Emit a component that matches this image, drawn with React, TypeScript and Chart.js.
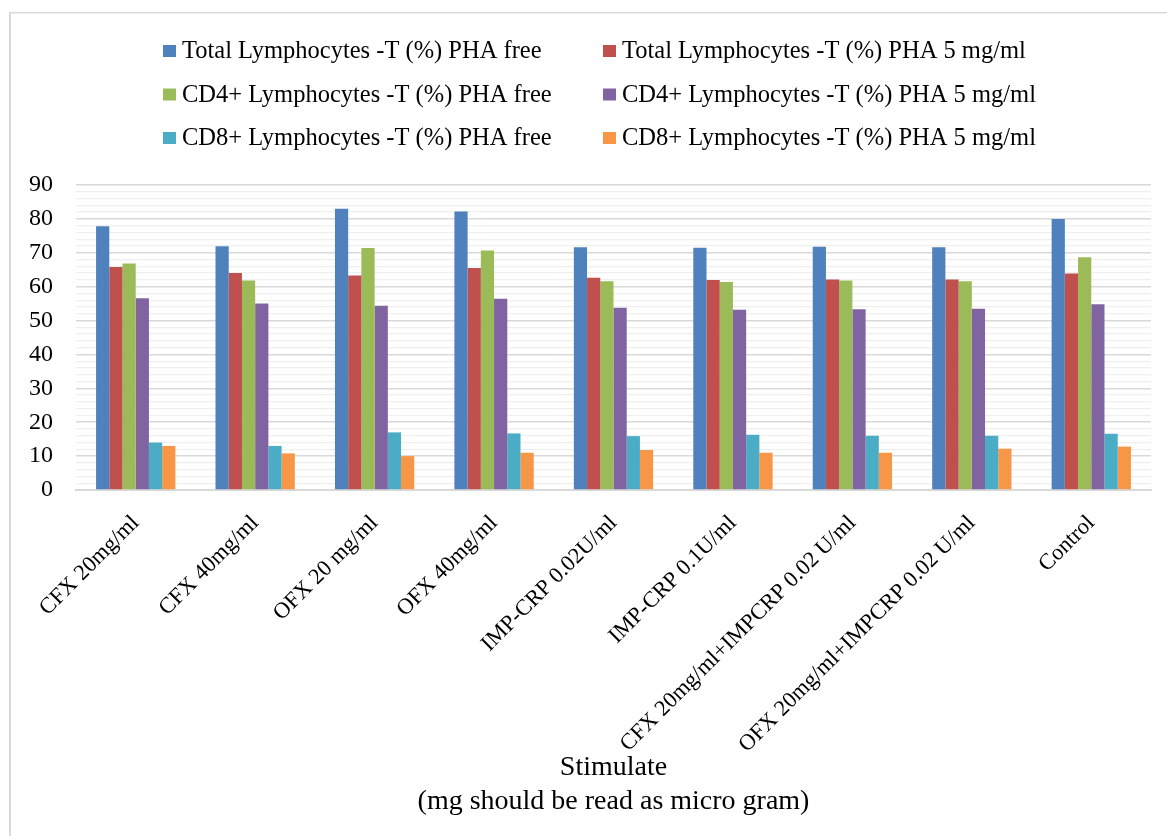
import React, { useEffect, useRef } from "react";
import { Chart, registerables } from "chart.js";

Chart.register(...registerables);

const FONT = "'Liberation Serif', 'Times New Roman', serif";

const categories = [
  "CFX 20mg/ml",
  "CFX 40mg/ml",
  "OFX 20 mg/ml",
  "OFX 40mg/ml",
  "IMP-CRP 0.02U/ml",
  "IMP-CRP 0.1U/ml",
  "CFX 20mg/ml+IMPCRP 0.02 U/ml",
  "OFX 20mg/ml+IMPCRP 0.02 U/ml",
  "Control",
];

const seriesNames = [
  "Total Lymphocytes -T (%) PHA free",
  "Total Lymphocytes -T (%) PHA 5 mg/ml",
  "CD4+ Lymphocytes -T (%) PHA free",
  "CD4+ Lymphocytes -T (%) PHA 5 mg/ml",
  "CD8+ Lymphocytes -T (%) PHA free",
  "CD8+ Lymphocytes -T (%) PHA 5 mg/ml",
];

const seriesColors = ["#4F81BD", "#C0504D", "#9BBB59", "#8064A2", "#4BACC6", "#F79646"];

const totalFree = [77.8, 71.9, 83.0, 82.2, 71.6, 71.5, 71.8, 71.6, 80.0];
const total5 = [65.8, 64.0, 63.3, 65.5, 62.6, 62.0, 62.1, 62.1, 63.9];
const cd4Free = [66.8, 61.8, 71.4, 70.7, 61.6, 61.4, 61.8, 61.6, 68.7];
const cd45 = [56.6, 55.0, 54.4, 56.4, 53.8, 53.2, 53.3, 53.5, 54.8];
const cd8Free = [14.0, 13.0, 17.0, 16.7, 15.9, 16.3, 16.0, 16.0, 16.6];
const cd85 = [13.0, 10.8, 10.0, 11.0, 11.8, 11.0, 11.0, 12.2, 12.8];

const seriesValues = [totalFree, total5, cd4Free, cd45, cd8Free, cd85];

const axisTitle = ["Stimulate", "(mg should be read as micro gram)"];

// Frame lines and a two-column legend drawn above the plot
const framePlugin = {
  id: "frameAndLegend",
  afterDraw(chart: Chart) {
    const ctx = chart.ctx;
    ctx.save();
    ctx.fillStyle = "#d9d9d9";
    ctx.fillRect(9, 12, 2, chart.height - 12);
    ctx.fillRect(9, 12, chart.width - 9, 1.5);

    const colX = [163, 603];
    const rowY = [51, 94.5, 138];
    ctx.font = `24.5px ${FONT}`;
    ctx.textBaseline = "middle";
    ctx.textAlign = "left";
    seriesNames.forEach((name, i) => {
      const x = colX[i % 2];
      const y = rowY[Math.floor(i / 2)];
      ctx.fillStyle = seriesColors[i];
      ctx.fillRect(x, y - 6, 13, 12);
      ctx.fillStyle = "#000";
      ctx.fillText(name, x + 19, y + 1);
    });
    ctx.restore();
  },
};

export default function App() {
  const canvasRef = useRef<HTMLCanvasElement | null>(null);

  useEffect(() => {
    if (!canvasRef.current) return;
    const chart = new Chart(canvasRef.current, {
      type: "bar",
      data: {
        labels: categories,
        datasets: seriesNames.map((name, i) => ({
          label: name,
          data: seriesValues[i],
          backgroundColor: seriesColors[i],
          borderWidth: 0,
          barPercentage: 1,
          categoryPercentage: 0.664,
        })),
      },
      options: {
        animation: false,
        responsive: true,
        maintainAspectRatio: false,
        layout: { padding: { top: 185, right: 16, bottom: 0, left: 0 } },
        plugins: {
          legend: { display: false },
          tooltip: { enabled: false },
        },
        scales: {
          x: {
            grid: { display: false },
            border: { display: true, color: "#d9d9d9", width: 2 },
            ticks: {
              color: "#000",
              font: { family: FONT, size: 22.5 },
              maxRotation: 45,
              minRotation: 45,
              padding: 12,
              autoSkip: false,
            },
            title: {
              display: true,
              text: axisTitle,
              color: "#000",
              font: { family: FONT, size: 28, lineHeight: 1.22 },
              padding: { top: 0, bottom: 17 },
            },
            afterFit(scale: any) {
              scale.height = 346;
            },
          },
          y: {
            min: 0,
            max: 90,
            border: { display: false },
            grid: {
              drawTicks: false,
              color: (c: any) => (c.tick && c.tick.value % 10 === 0 ? "#d9d9d9" : "#efefef"),
              lineWidth: (c: any) => (c.tick && c.tick.value % 10 === 0 ? 1.6 : 1.3),
            },
            ticks: {
              stepSize: 2,
              autoSkip: false,
              color: "#000",
              padding: 23,
              font: { family: FONT, size: 24 },
              callback: (v: any) => (Number(v) % 10 === 0 ? String(v) : ""),
            },
            afterFit(scale: any) {
              scale.width = 76;
            },
          },
        },
      },
      plugins: [framePlugin],
    });
    return () => chart.destroy();
  }, []);

  return (
    <div style={{ position: "fixed", left: 0, top: 0, width: 1167, height: 836, background: "#fff" }}>
      <canvas ref={canvasRef} />
    </div>
  );
}
